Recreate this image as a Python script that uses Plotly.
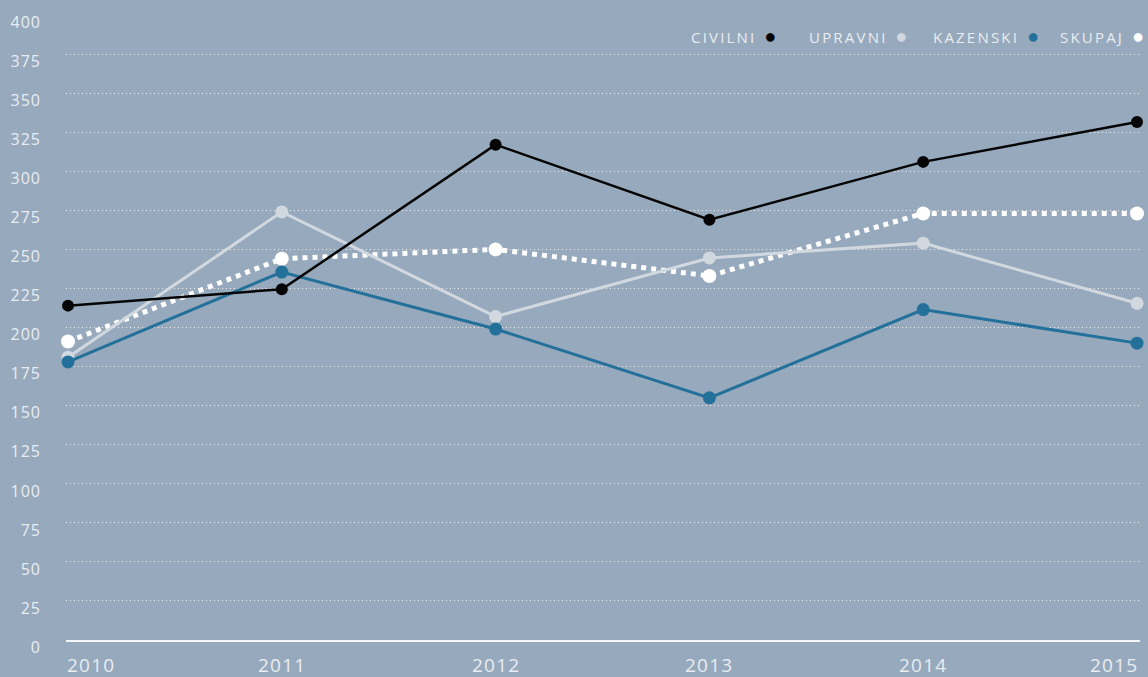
import plotly.graph_objects as go

# year axis and the four series
years = [2010, 2011, 2012, 2013, 2014, 2015]
civilni = [214, 224.5, 317, 269, 306, 331.5]
upravni = [181, 274, 207, 244.5, 254, 215.5]
kazenski = [178, 235.5, 199, 155, 211.5, 190]
skupaj = [191, 244, 250, 233, 273, 273]

y_ticks = list(range(0, 401, 25))

bg = "#97a9bc"
label_col = "#e9edf2"

series = [
    ("CIVILNI", civilni, "#050505", 2.5, "solid", 12),
    ("UPRAVNI", upravni, "#d2d8df", 3, "solid", 13),
    ("KAZENSKI", kazenski, "#23709a", 3, "solid", 13),
    ("SKUPAJ", skupaj, "#ffffff", 5, "dot", 14),
]


def spaced(txt, px):
    return f"<span style='letter-spacing:{px}px'>{txt}</span>"


fig = go.Figure()

# draw skupaj first so the solid lines sit on top like the original
for name, vals, col, w, dash, msize in [series[3], series[1], series[2], series[0]]:
    fig.add_trace(go.Scatter(
        x=years, y=vals, name=name,
        mode="lines+markers",
        line=dict(color=col, width=w, dash=dash),
        marker=dict(color=col, size=msize),
        cliponaxis=False,
        showlegend=False,
    ))

# legend as text + coloured dot on the right
legend_x = [0.5805, 0.6904, 0.8050, 0.9232]
for (name, vals, col, w, dash, msize), lx in zip(series, legend_x):
    fig.add_annotation(
        xref="paper", yref="paper", x=lx, y=1.0, yshift=-20,
        xanchor="left", yanchor="middle",
        text=spaced(name, 2.2) + f"  <span style='color:{col}; font-size:20px'>●</span>",
        showarrow=False,
        font=dict(family="Open Sans", size=15, color=label_col),
    )

# year labels: first left-aligned, last right-aligned, others centred
for i, yr in enumerate(years):
    anchor = "left" if i == 0 else ("right" if i == len(years) - 1 else "center")
    shift = -3 if i == 0 else (3 if i == len(years) - 1 else 0)
    fig.add_annotation(
        x=yr, xref="x", yref="paper", y=0, yshift=-10, xshift=shift,
        xanchor=anchor, yanchor="top",
        text=spaced(str(yr), 1.2), showarrow=False,
        font=dict(family="Open Sans", size=19, color=label_col),
    )

fig.update_layout(
    width=1148, height=677,
    margin=dict(l=66, r=8, t=15, b=37),
    paper_bgcolor=bg, plot_bgcolor=bg,
    showlegend=False,
    xaxis=dict(
        range=[2009.9906, 2015.014],
        showticklabels=False, showgrid=False, zeroline=False,
        showline=True, linecolor="#f4f6f8", linewidth=2,
        fixedrange=True,
    ),
    yaxis=dict(
        range=[0, 400],
        tickvals=y_ticks,
        ticktext=[spaced(str(v), 1) for v in y_ticks],
        tickfont=dict(family="Open Sans", size=16, color=label_col),
        ticklabelposition="outside bottom",
        ticklabelstandoff=24,
        ticklabelshift=-4,
        showgrid=True, gridcolor="rgba(255,255,255,0.85)", gridwidth=1,
        griddash="1px,3px",
        zeroline=False, showline=False, ticks="",
        fixedrange=True,
    ),
)

fig.write_html(
    "out.html",
    config={"displayModeBar": False},
    post_script="document.body.style.margin='0';",
)
